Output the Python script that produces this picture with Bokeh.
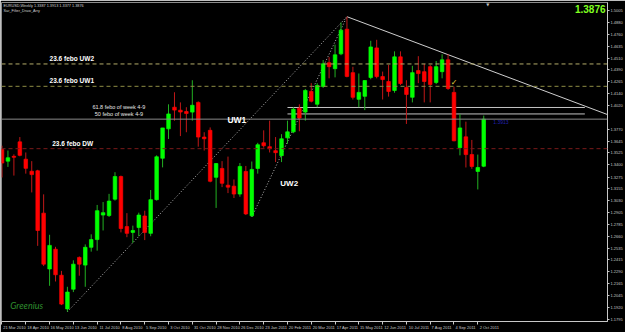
import numpy as np
from bokeh.plotting import figure
from bokeh.models import ColumnDataSource, Range1d, FixedTicker, Span, Label, NumeralTickFormatter
from bokeh.embed import file_html
from bokeh.resources import INLINE

# ---------------- data (EURUSD weekly) ----------------
symbol = "EURUSD,Weekly"
indicator_name = "Sar_Filter_Draw_Arry"
opens = [1.3560, 1.3440, 1.3490, 1.3640, 1.3460, 1.3335, 1.3340, 1.2900, 1.2320, 1.2525,
         1.2255, 1.1905, 1.2110, 1.2440, 1.2360, 1.2545, 1.2625, 1.2880, 1.2875, 1.3045,
         1.3280, 1.2760, 1.2700, 1.2750, 1.2870, 1.2690, 1.3040, 1.3470, 1.3775, 1.4000,
         1.3969, 1.3955, 1.3949, 1.4050, 1.3690, 1.3760, 1.3272, 1.3364, 1.3190, 1.3180,
         1.3098, 1.3333, 1.2872, 1.3364, 1.3631, 1.3590, 1.3549, 1.3497, 1.3682, 1.3744,
         1.3990, 1.3949, 1.4164, 1.4031, 1.4215, 1.4462, 1.4400, 1.4554, 1.4810, 1.4359,
         1.4082, 1.4113, 1.4308, 1.4616, 1.4318, 1.4267, 1.4174, 1.4523, 1.4205, 1.4103,
         1.4380, 1.4369, 1.4421, 1.4257, 1.4369, 1.4492, 1.4154, 1.3580, 1.3692, 1.3508,
         1.3333, 1.3387]
highs = [1.3600, 1.3550, 1.3510, 1.3690, 1.3530, 1.3440, 1.3350, 1.3095, 1.2675, 1.2550,
         1.2300, 1.2135, 1.2410, 1.2450, 1.2575, 1.2680, 1.2985, 1.3015, 1.3100, 1.3325,
         1.3290, 1.2900, 1.2770, 1.2905, 1.2925, 1.3140, 1.3500, 1.3785, 1.4030, 1.4155,
         1.4050, 1.4000, 1.4280, 1.4060, 1.3740, 1.3790, 1.3420, 1.3440, 1.3487, 1.3250,
         1.3420, 1.3390, 1.3436, 1.3630, 1.3760, 1.3860, 1.3690, 1.3720, 1.3860, 1.4000,
         1.4030, 1.4190, 1.4250, 1.4250, 1.4490, 1.4520, 1.4650, 1.4880, 1.4940, 1.4420,
         1.4350, 1.4280, 1.4690, 1.4700, 1.4370, 1.4440, 1.4580, 1.4580, 1.4280, 1.4430,
         1.4530, 1.4450, 1.4440, 1.4480, 1.4550, 1.4549, 1.4214, 1.3928, 1.3850, 1.3660,
         1.3508, 1.3913]
lows = [1.3270, 1.3380, 1.3290, 1.3490, 1.3310, 1.3115, 1.2560, 1.2350, 1.2145, 1.2190,
        1.1945, 1.1876, 1.2080, 1.2250, 1.2135, 1.2500, 1.2510, 1.2720, 1.2860, 1.3030,
        1.2700, 1.2650, 1.2590, 1.2660, 1.2620, 1.2660, 1.3030, 1.3375, 1.3670, 1.3860,
        1.3700, 1.3740, 1.3860, 1.3590, 1.3550, 1.3220, 1.2954, 1.3170, 1.3108, 1.3057,
        1.3070, 1.2880, 1.2860, 1.3310, 1.3580, 1.3530, 1.3430, 1.3430, 1.3620, 1.3730,
        1.3750, 1.3860, 1.4050, 1.4000, 1.4200, 1.4300, 1.4310, 1.4540, 1.4310, 1.4080,
        1.4000, 1.3970, 1.4290, 1.4300, 1.4080, 1.4110, 1.4150, 1.4230, 1.3826, 1.4050,
        1.4250, 1.4050, 1.4050, 1.4240, 1.4300, 1.4180, 1.3646, 1.3500, 1.3374, 1.3360,
        1.3146, 1.3377]
closes = [1.3420, 1.3475, 1.3480, 1.3500, 1.3365, 1.3300, 1.2720, 1.2370, 1.2565, 1.2260,
          1.1955, 1.2080, 1.2370, 1.2370, 1.2545, 1.2625, 1.2925, 1.2905, 1.3025, 1.3280,
          1.2740, 1.2690, 1.2720, 1.2880, 1.2700, 1.3040, 1.3485, 1.3785, 1.3930, 1.3970,
          1.3950, 1.3935, 1.4020, 1.3690, 1.3672, 1.3231, 1.3415, 1.3210, 1.3170, 1.3098,
          1.3385, 1.2892, 1.3354, 1.3610, 1.3600, 1.3569, 1.3528, 1.3672, 1.3744, 1.3979,
          1.3887, 1.4174, 1.4062, 1.4226, 1.4451, 1.4421, 1.4544, 1.4800, 1.4320, 1.4103,
          1.4154, 1.4277, 1.4626, 1.4318, 1.4287, 1.4164, 1.4523, 1.4246, 1.4133, 1.4359,
          1.4349, 1.4267, 1.4236, 1.4421, 1.4492, 1.4195, 1.3651, 1.3785, 1.3508, 1.3385,
          1.3374, 1.3876]

date_tick_bars = [0, 4, 8, 12, 16, 20, 24, 28, 32, 36, 40, 44, 48, 52, 56, 60, 64, 68, 72, 76, 80]
date_tick_labels = ["21 Mar 2010", "18 Apr 2010", "16 May 2010", "13 Jun 2010", "11 Jul 2010",
                    "8 Aug 2010", "5 Sep 2010", "3 Oct 2010", "31 Oct 2010", "28 Nov 2010",
                    "26 Dec 2010", "23 Jan 2011", "20 Feb 2011", "20 Mar 2011", "17 Apr 2011",
                    "15 May 2011", "12 Jun 2011", "10 Jul 2011", "7 Aug 2011", "4 Sep 2011",
                    "2 Oct 2011"]
price_ticks = [1.5005, 1.4880, 1.4760, 1.4635, 1.4510, 1.4390, 1.4265, 1.4140, 1.4020,
               1.3770, 1.3645, 1.3525, 1.3400, 1.3275, 1.3155, 1.3030, 1.2905, 1.2785,
               1.2660, 1.2535, 1.2415, 1.2290, 1.2165, 1.2045, 1.1920, 1.1795]

# wave anchors (bar numbers) and fibo ratios
uw1_start_bar = 11
uw2_start_bar = 42
top_bar = 58
dw_low_bar = 80
fib_week_bar = 76
fib_236, fib_50, fib_618 = 0.236, 0.5, 0.618
downtrend_slope = -0.00232      # price per bar of the falling trend line
fib_seg_bars = (48, 98)         # span of the "week 4-9" lines
signal_text = "1.3913"

# ---------------- derived values ----------------
n = len(opens)
top_price = highs[top_bar]
lvl_uw2 = top_price - fib_236 * (top_price - lows[uw2_start_bar])
lvl_uw1 = top_price - fib_236 * (top_price - lows[uw1_start_bar])
lvl_dw = lows[dw_low_bar] + fib_236 * (top_price - lows[dw_low_bar])
wk_hi, wk_lo = highs[fib_week_bar], lows[fib_week_bar]
lvl_618 = wk_lo + fib_618 * (wk_hi - wk_lo)
lvl_50 = wk_lo + fib_50 * (wk_hi - wk_lo)
last_close = closes[-1]

# view window (bar units / price units)
x_lo, x_hi = -0.084, 101.81
y_lo, y_hi = 1.17745, 1.50874
BAR_PX = 5.957

UP, DN = "#00ff00", "#ff0000"
UPW, DNW = "#22b022", "#c01818"

p = figure(width=625, height=332, output_backend="svg", toolbar_location=None,
           x_range=Range1d(x_lo, x_hi), y_range=Range1d(y_lo, y_hi),
           y_axis_location="right", min_border_left=1, min_border_top=2,
           min_border_right=17, min_border_bottom=7)
p.background_fill_color = "black"
p.border_fill_color = "black"
p.outline_line_color = "#8c8c8c"
p.grid.visible = False

# ---------------- axes ----------------
xa = p.xaxis[0]
centers = [b + (len(t) * 1.0 + 1.5) / BAR_PX for b, t in zip(date_tick_bars, date_tick_labels)]
xa.ticker = FixedTicker(ticks=centers, minor_ticks=date_tick_bars)
xa.major_label_overrides = {c: t for c, t in zip(centers, date_tick_labels)}
xa.major_tick_out = 0
xa.major_tick_in = 0
xa.minor_tick_out = 3
xa.minor_tick_in = 0
xa.minor_tick_line_color = "#c8c8c8"
xa.axis_line_color = "#c8c8c8"
xa.major_label_standoff = 0
xa.major_label_text_font = "Liberation Sans"
xa.major_label_text_font_size = "4px"
xa.major_label_text_color = "#c8c8c8"

ya = p.yaxis[0]
ya.ticker = FixedTicker(ticks=price_ticks, minor_ticks=[])
ya.formatter = NumeralTickFormatter(format="0.0000")
ya.major_tick_out = 2
ya.major_tick_in = 0
ya.major_tick_line_color = "#c8c8c8"
ya.axis_line_color = "#c8c8c8"
ya.major_label_standoff = 1
ya.major_label_text_font = "Liberation Sans"
ya.major_label_text_font_size = "4px"
ya.major_label_text_color = "#c8c8c8"

# ---------------- levels ----------------
p.add_layout(Span(location=lvl_uw2, dimension="width", line_color="#b4ac6a", line_dash="4 3", line_width=1))
p.add_layout(Span(location=lvl_uw1, dimension="width", line_color="#8e8c44", line_dash="4 3", line_width=1))
p.add_layout(Span(location=lvl_dw, dimension="width", line_color="#7a1a1a", line_dash="4 3", line_width=1))
p.add_layout(Span(location=last_close, dimension="width", line_color="#8a8a8a", line_width=1))
p.segment(x0=[fib_seg_bars[0]] * 2, x1=[fib_seg_bars[1]] * 2, y0=[lvl_618, lvl_50], y1=[lvl_618, lvl_50],
          line_color="#c4c4c4", line_width=1)

# ---------------- trend lines ----------------
p.line([uw1_start_bar, top_bar], [lows[uw1_start_bar], top_price], line_color="#b8b8b8",
       line_dash="1 2", line_width=1)
p.line([uw2_start_bar, top_bar], [lows[uw2_start_bar], top_price], line_color="#b8b8b8",
       line_dash="1 2", line_width=1)
x_end = x_hi + 2
p.line([top_bar, x_end], [top_price, top_price + downtrend_slope * (x_end - top_bar)],
       line_color="#cfcfcf", line_width=1)

# ---------------- candles ----------------
up = [c >= o for o, c in zip(opens, closes)]
src = ColumnDataSource(dict(
    x=list(range(n)), h=highs, l=lows,
    top=[max(o, c) for o, c in zip(opens, closes)],
    bottom=[min(o, c) for o, c in zip(opens, closes)],
    body=[UP if u else DN for u in up],
    wick=[UPW if u else DNW for u in up]))
p.segment(x0="x", y0="l", x1="x", y1="h", line_color="wick", line_width=1, source=src)
p.vbar(x="x", width=0.6, top="top", bottom="bottom", fill_color="body",
       line_color="body", line_width=0.7, source=src)

# ---------------- texts ----------------
def lab(x, y, text, size, color="white", style="bold", align="left", base="middle",
        xo=0, yo=0, font="Liberation Sans"):
    p.add_layout(Label(x=x, y=y, text=text, text_font=font, text_font_size=size,
                       text_font_style=style, text_color=color, text_align=align,
                       text_baseline=base, x_offset=xo, y_offset=yo))

lab(8.0, lvl_uw2, "23.6 febo UW2", "6.5px", base="bottom", yo=2)
lab(8.0, lvl_uw1, "23.6 febo UW1", "6.5px", base="bottom", yo=2)
lab(8.45, lvl_dw, "23.6 febo DW", "6.5px", base="bottom", yo=2)
lab(15.2, lvl_618, "61.8 febo of week 4-9", "5.5px", color="#e6e6e6", style="normal")
lab(15.6, lvl_50, "50  febo of week 4-9", "5.5px", color="#e6e6e6", style="normal")
lab(37.9, 1.3867, "UW1", "8.5px")
lab(46.8, 1.3210, "UW2", "8px")
lab(1.4, 1.1939, "Greenius", "9px", color="#2f8f2f", style="italic", font="Lato")
lab(fib_week_bar, highs[fib_week_bar], "\u2713", "8px", color="#e8d040", style="bold",
    align="center", base="bottom", yo=0, font="DejaVu Sans")
lab(n + 0.6, last_close, signal_text, "5px", color="#2020b0", style="normal", base="top", yo=-1)

# header and top-right price
lab(x_lo, y_hi, f"{symbol}  {opens[-1]:.4f} {highs[-1]:.4f} {lows[-1]:.4f} {last_close:.4f}",
    "3.8px", color="#d0d0d0", style="normal", base="top", xo=2, yo=-1)
lab(x_lo, y_hi, indicator_name, "3.8px", color="#d0d0d0", style="normal", base="top", xo=2, yo=-6)
lab(x_hi, y_hi, f"{last_close:.4f}", "10px", color="#80ff20", style="bold",
    align="right", base="top", xo=-2, yo=-2)
lab(n - 0.3, y_hi, "\u25bc", "4px", color="#c0c0c0", style="normal", align="center",
    base="top", yo=1, font="DejaVu Sans")

# boxed prices on the price scale
for val, bg, fg in [(lvl_uw2, "#e8dc50", "#202000"), (lvl_uw1, "#e8dc50", "#202000"),
                    (last_close, "#ffffff", "#000000"), (lvl_dw, "#a01414", "#300000")]:
    p.add_layout(Label(x=x_hi, y=val, text=f"{val:.4f}", text_font="Liberation Sans",
                       text_font_size="4px", text_color=fg, text_align="left",
                       text_baseline="middle", x_offset=1, background_fill_color=bg,
                       padding=1))

open("out.html", "w").write(file_html(p, INLINE))
